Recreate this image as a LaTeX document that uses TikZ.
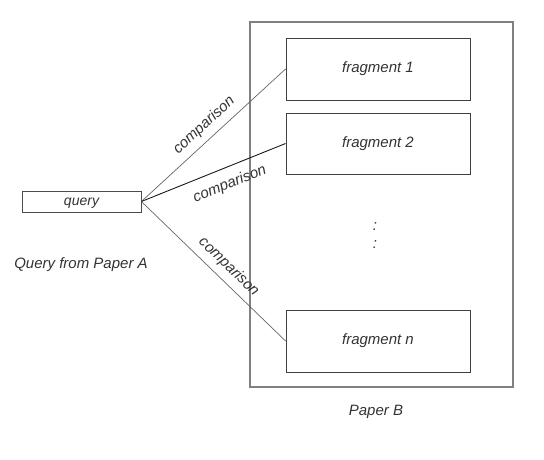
\documentclass[tikz,border=0pt]{standalone}
\usepackage{fontspec}
\setmainfont{Liberation Sans}
\begin{document}
\begin{tikzpicture}[x=1pt,y=-1pt,
  box/.style={draw=black!75,line width=0.9pt,inner sep=0pt},
  lbl/.style={font=\fontsize{15}{17}\selectfont\itshape,text=black!80},
  conn/.style={draw=black!60,line width=0.7pt},
  connb/.style={draw=black!90,line width=0.9pt}]
\useasboundingbox (0,0) rectangle (544,459);
\node[draw=black!50,line width=1.2pt,minimum width=263pt,minimum height=365pt,inner sep=0pt] (paperB) at (381.5,204.5) {};
\node[box,minimum width=184pt,minimum height=62pt,lbl] (f1) at (378,69) {fragment 1};
\node[box,minimum width=184pt,minimum height=61pt,lbl] (f2) at (378,143.5) {fragment 2};
\node[box,minimum width=184pt,minimum height=62pt,lbl] (fn) at (378,341) {fragment n};
\node[draw=black!70,line width=0.8pt,minimum width=119pt,minimum height=21pt,inner sep=0pt] (q) at (81.5,201.5) {};
\node[font=\fontsize{14}{16}\selectfont\itshape,text=black!80] (qt) at (81.5,203) {query};
\node[lbl] (qa) at (81,265) {Query from Paper A};
\node[lbl] (pb) at (376,412) {Paper B};
\node[lbl] (d1) at (375,227) {:};
\node[lbl] (d2) at (375,245) {:};
\draw[conn] (q.east) -- node[sloped,above,lbl,yshift=3pt] {comparison} (f1.west);
\draw[connb] (q.east) -- node[sloped,below,lbl,pos=0.57,yshift=-6pt] {comparison} (f2.west);
\draw[conn] (q.east) -- node[sloped,above,lbl,pos=0.54,yshift=3pt] {comparison} (fn.west);
\end{tikzpicture}
\end{document}
